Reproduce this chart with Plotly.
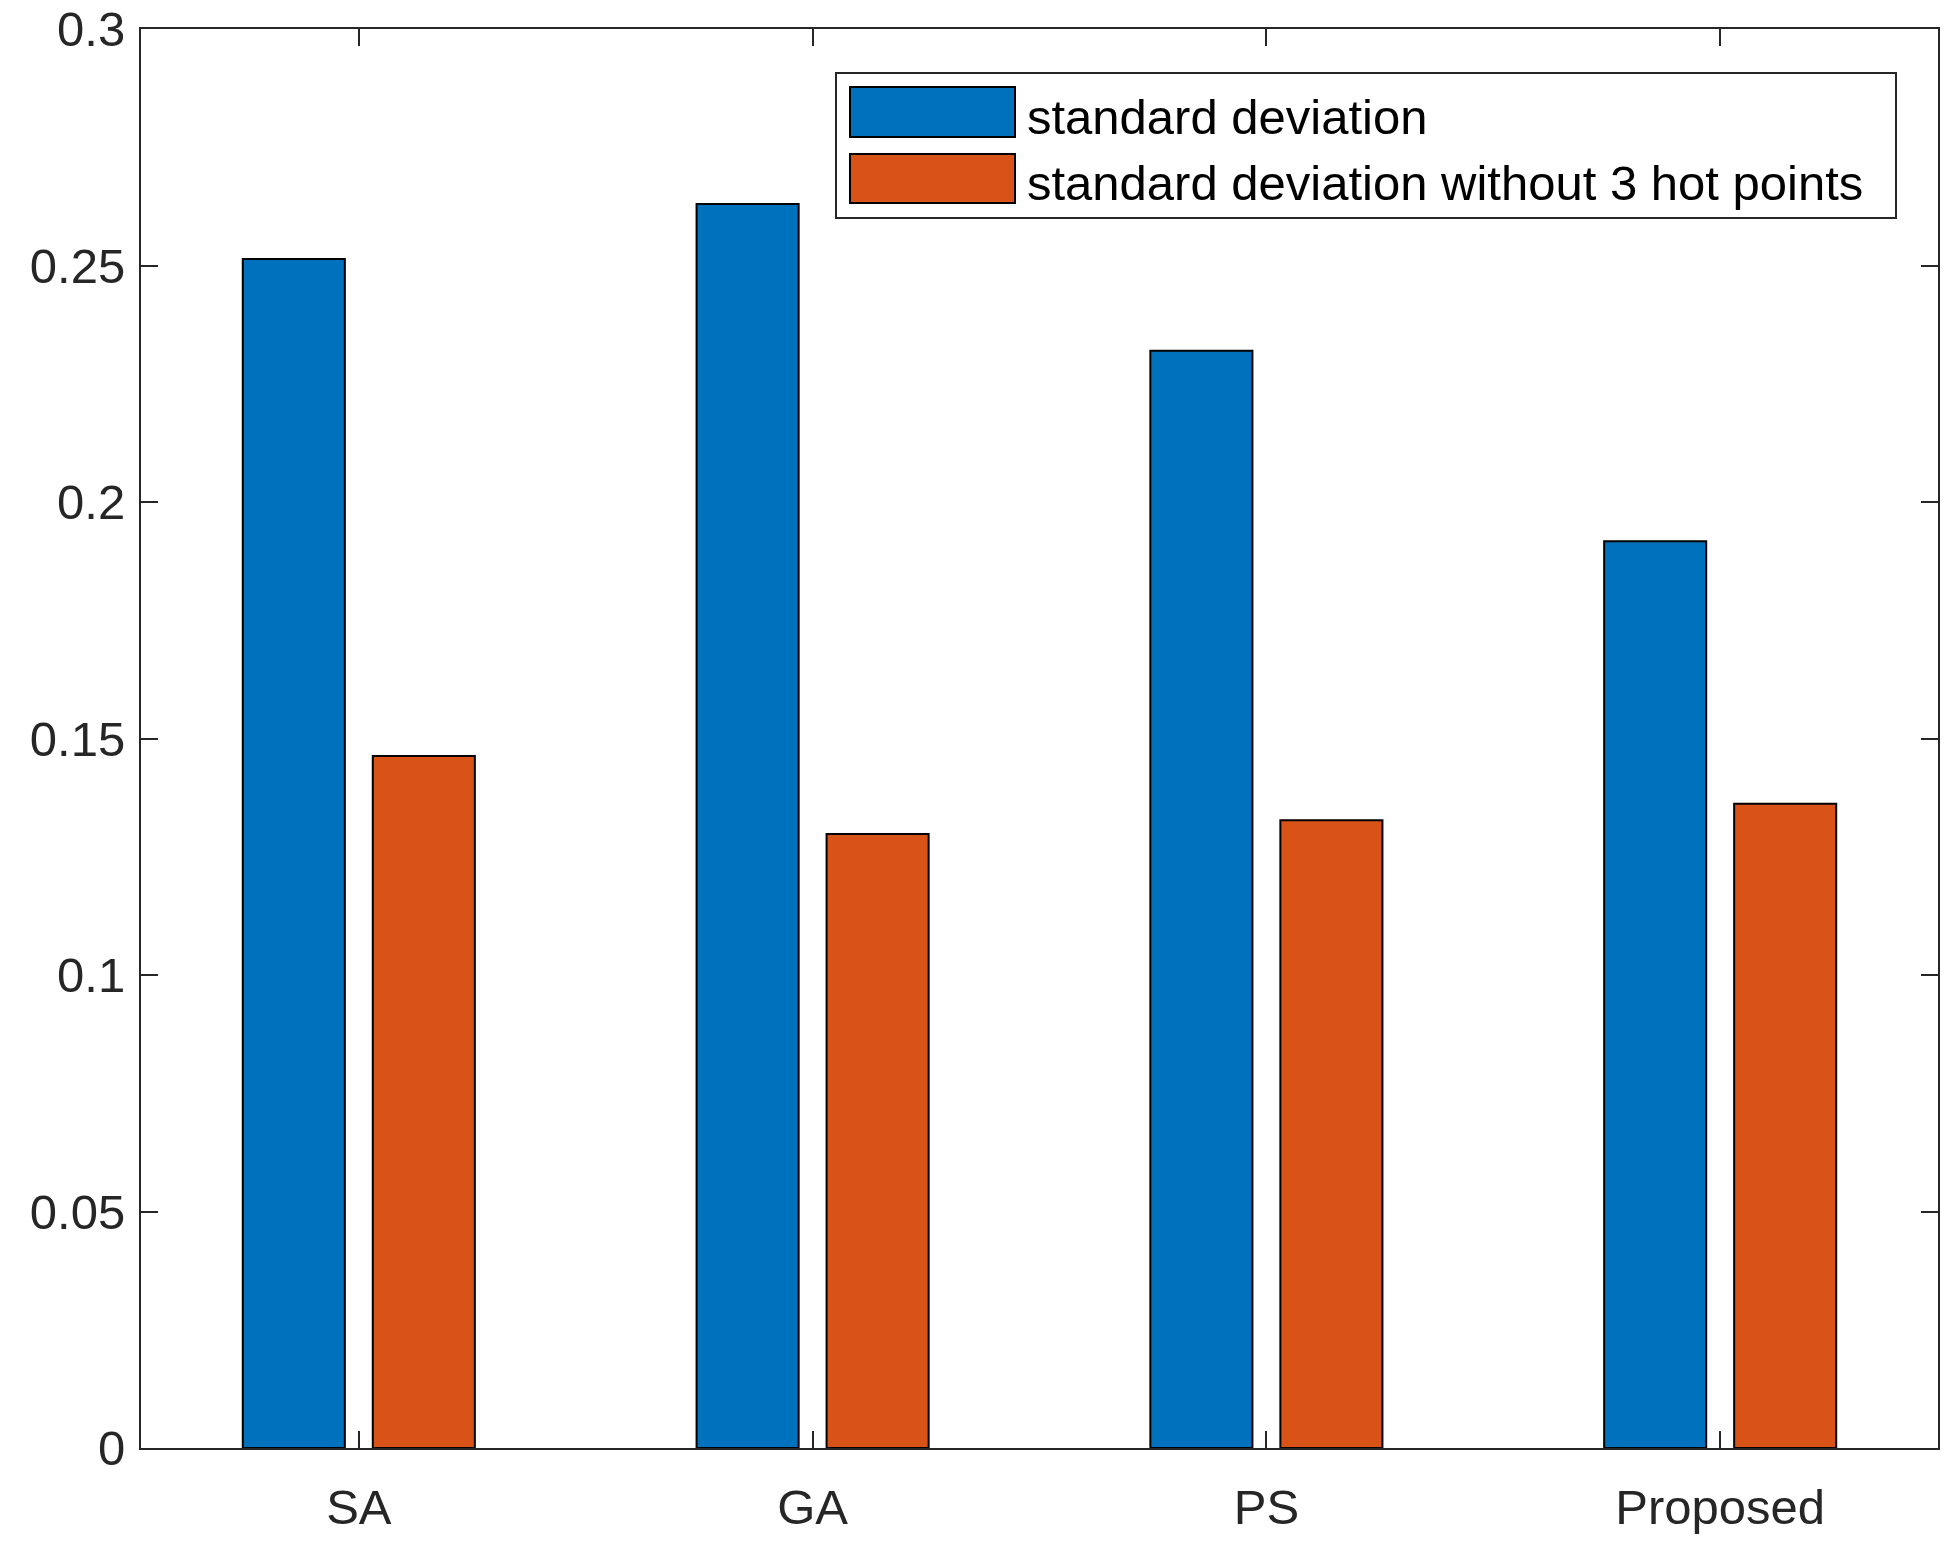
import plotly.graph_objects as go

categories = ["SA", "GA", "PS", "Proposed"]
x_pos = [1, 2, 3, 4]
std_dev = [0.2514, 0.2630, 0.2320, 0.1917]
std_dev_wo3 = [0.1463, 0.1298, 0.1327, 0.1362]
series_names = ["standard deviation", "standard deviation without 3 hot points"]
y_tickvals = [0, 0.05, 0.1, 0.15, 0.2, 0.25, 0.3]
y_ticktext = ["0", "0.05", "0.1", "0.15", "0.2", "0.25", "0.3"]

BLUE = "#0072BD"
ORANGE = "#D95319"
AX = "#262626"
FONT = "Liberation Sans, Arial, sans-serif"

L, R, T, B = 141, 12, 29, 101
W, H = 1950, 1549
PW, PH = W - L - R, H - T - B

fig = go.Figure()
fig.add_trace(go.Bar(x=x_pos, y=std_dev, name=series_names[0],
                     marker=dict(color=BLUE, line=dict(color="black", width=2)), showlegend=False))
fig.add_trace(go.Bar(x=x_pos, y=std_dev_wo3, name=series_names[1],
                     marker=dict(color=ORANGE, line=dict(color="black", width=2)), showlegend=False))

fig.update_layout(
    width=W, height=H,
    margin=dict(l=L, r=R, t=T, b=B, autoexpand=False),
    paper_bgcolor="white", plot_bgcolor="white",
    barmode="group", bargap=0.427, bargroupgap=0.215,
    font=dict(family=FONT, size=49, color=AX),
    showlegend=False,
)
fig.update_xaxes(
    range=[0.52, 4.48], tickvals=x_pos, ticktext=categories,
    showline=True, linecolor=AX, linewidth=2, mirror="ticks",
    ticks="inside", ticklen=17, tickwidth=2, tickcolor=AX,
    showgrid=False, zeroline=False, ticklabelstandoff=15, automargin=False,
)
fig.update_yaxes(
    range=[0, 0.3], tickvals=y_tickvals, ticktext=y_ticktext,
    showline=True, linecolor=AX, linewidth=2, mirror="ticks",
    ticks="inside", ticklen=17, tickwidth=2, tickcolor=AX,
    showgrid=False, zeroline=False, ticklabelstandoff=4, automargin=False,
)

# custom legend (MATLAB style)
def px_x(p):
    return (p - L) / PW

def px_y(p):
    return 1 - (p - T) / PH

fig.add_shape(type="rect", xref="paper", yref="paper", x0=px_x(836), x1=px_x(1896), y0=px_y(218), y1=px_y(73),
              line=dict(color=AX, width=2), fillcolor="white", layer="above")
swatches = [(BLUE, 87, 137, 117), (ORANGE, 154, 203, 183)]
for (col, ytop, ybot, yc), name in zip(swatches, series_names):
    fig.add_shape(type="rect", xref="paper", yref="paper", x0=px_x(850), x1=px_x(1015), y0=px_y(ybot), y1=px_y(ytop),
                  line=dict(color="black", width=2), fillcolor=col, layer="above")
    fig.add_annotation(xref="paper", yref="paper", x=px_x(1025), y=px_y(yc), text=name, showarrow=False,
                       xanchor="left", yanchor="middle", font=dict(family=FONT, size=49, color="black"))

fig.write_html("out.html", config={"displayModeBar": False},
               post_script="document.body.style.margin='0';document.body.style.overflow='hidden';")
